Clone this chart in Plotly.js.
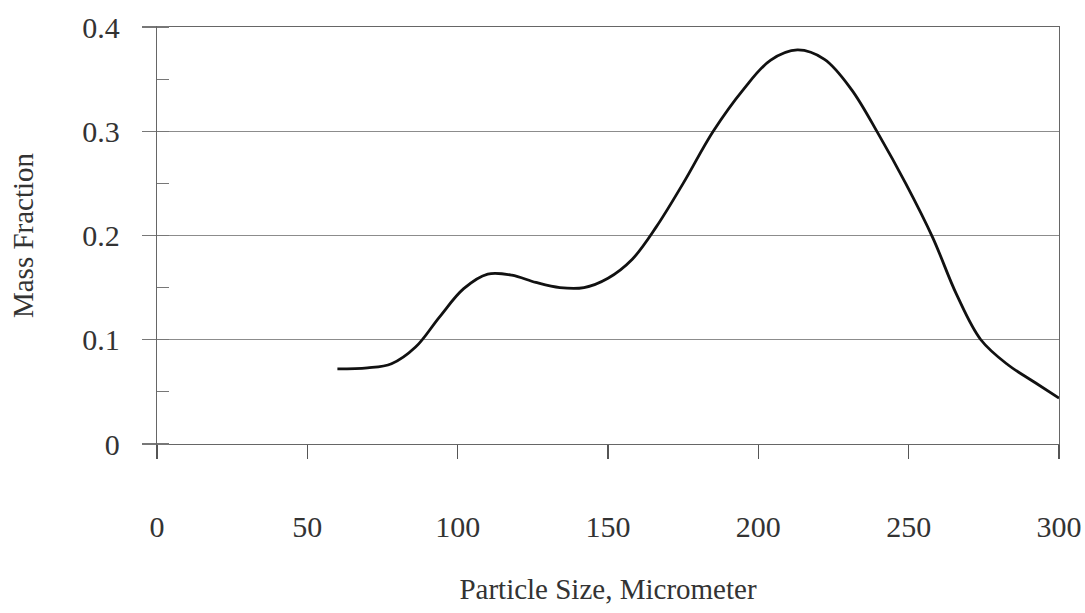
<!DOCTYPE html>
<html>
<head>
<meta charset="utf-8">
<script src="https://cdn.plot.ly/plotly-3.0.1.min.js"></script>
<style>
  html, body { margin: 0; padding: 0; background: #fff; }
  #chart { width: 1085px; height: 613px; }
</style>
</head>
<body>
<div id="chart"></div>
<script>
// Particle size (micrometer)
const particleSize = [60, 70, 78, 86, 94, 102, 110, 118, 126, 134, 142, 150, 158, 166, 175, 185, 195, 204, 213, 222, 231, 240, 249, 258, 266, 274, 283, 292, 300];
// Mass fraction
const massFraction = [0.072, 0.073, 0.077, 0.093, 0.122, 0.149, 0.163, 0.162, 0.155, 0.150, 0.150, 0.159, 0.177, 0.208, 0.250, 0.300, 0.340, 0.368, 0.378, 0.369, 0.340, 0.297, 0.250, 0.198, 0.143, 0.100, 0.076, 0.059, 0.044];

const xTicks = [0, 50, 100, 150, 200, 250, 300];
const yTicks = [0, 0.1, 0.2, 0.3, 0.4];
const yTickLabels = ['0', '0.1', '0.2', '0.3', '0.4'];

const fontFamily = '"Liberation Serif", "Times New Roman", serif';
const textColor = '#333333';

const trace = {
  x: particleSize,
  y: massFraction,
  type: 'scatter',
  mode: 'lines',
  line: { color: '#111111', width: 2.8, shape: 'spline', smoothing: 1.0 },
  showlegend: false,
  hoverinfo: 'x+y'
};

const layout = {
  width: 1085,
  height: 613,
  margin: { l: 157, r: 26, t: 27, b: 169 },
  paper_bgcolor: '#ffffff',
  plot_bgcolor: '#ffffff',
  font: { family: fontFamily, color: textColor, size: 30 },
  showlegend: false,
  xaxis: {
    range: [0, 300],
    tickmode: 'array',
    tickvals: xTicks,
    ticktext: xTicks.map(String),
    ticks: 'outside',
    ticklen: 14,
    tickwidth: 1.3,
    tickcolor: '#555555',
    ticklabelstandoff: 42,
    tickfont: { family: fontFamily, size: 30, color: textColor },
    showgrid: false,
    zeroline: false,
    showline: true,
    mirror: true,
    linecolor: '#666666',
    linewidth: 1.3,
    title: {
      text: 'Particle Size, Micrometer',
      font: { family: fontFamily, size: 29, color: textColor },
      standoff: 36
    },
    automargin: false,
    fixedrange: true
  },
  yaxis: {
    range: [0, 0.4],
    tickmode: 'array',
    tickvals: yTicks,
    ticktext: yTickLabels,
    ticks: 'outside',
    ticklen: 14,
    tickwidth: 1.3,
    tickcolor: '#777777',
    ticklabelstandoff: 16,
    tickfont: { family: fontFamily, size: 30, color: textColor },
    minor: { dtick: 0.05, ticks: 'inside', ticklen: 12, tickwidth: 1.2, tickcolor: '#777777', showgrid: false },
    showgrid: true,
    gridcolor: '#8c8c8c',
    gridwidth: 1.4,
    zeroline: false,
    showline: true,
    mirror: true,
    linecolor: '#666666',
    linewidth: 1.3,
    title: {
      text: 'Mass Fraction',
      font: { family: fontFamily, size: 29, color: textColor },
      standoff: 40
    },
    automargin: false,
    fixedrange: true
  }
};

Plotly.newPlot('chart', [trace], layout, { displayModeBar: false, staticPlot: true });
</script>
</body>
</html>
